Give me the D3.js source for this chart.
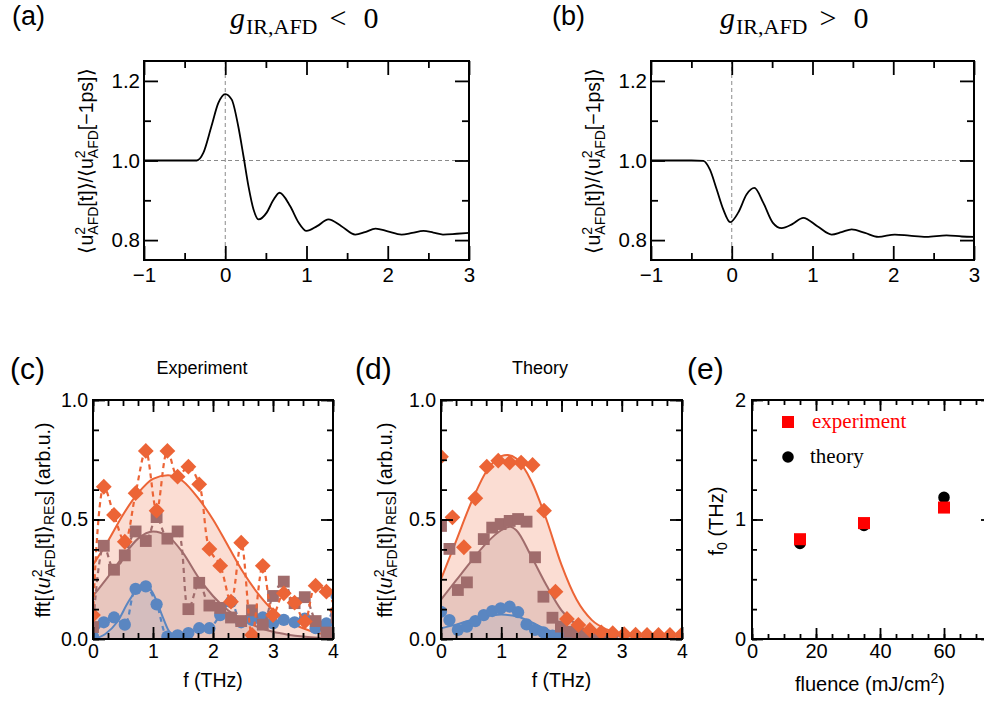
<!DOCTYPE html>
<html>
<head>
<meta charset="utf-8">
<title>AFD mode response</title>
<script src="https://d3js.org/d3.v7.min.js"></script>
<style>
  body { margin: 0; background: #fff; }
  svg text { fill: #000; }
</style>
</head>
<body>
<div id="fig"></div>
<script>
// ---- (a), (b): normalised <u^2_AFD> vs time (ps)
var timeA = [-1, -0.5, -0.35, -0.27, -0.17, -0.086, 0.0, 0.08, 0.16, 0.225, 0.286, 0.348, 0.41, 0.51, 0.59, 0.668, 0.8, 0.9, 1.0, 1.13, 1.27, 1.43, 1.6, 1.72, 1.85, 2.0, 2.17, 2.3, 2.44, 2.56, 2.68, 2.85, 3.0];
var ratioA = [1, 1, 1.0, 1.019, 1.086, 1.144, 1.167, 1.153, 1.086, 1.01, 0.935, 0.877, 0.852, 0.869, 0.9, 0.919, 0.885, 0.845, 0.823, 0.835, 0.852, 0.835, 0.814, 0.82, 0.829, 0.822, 0.814, 0.818, 0.823, 0.819, 0.814, 0.816, 0.818];
var timeB = [-1, -0.5, -0.352, -0.27, -0.186, -0.105, -0.02, 0.08, 0.185, 0.28, 0.39, 0.507, 0.618, 0.75, 0.886, 1.06, 1.237, 1.36, 1.485, 1.65, 1.815, 2.02, 2.2, 2.41, 2.66, 2.85, 3.0];
var ratioB = [1, 1, 0.999, 0.977, 0.927, 0.877, 0.845, 0.869, 0.915, 0.931, 0.894, 0.844, 0.830, 0.84, 0.856, 0.835, 0.814, 0.82, 0.827, 0.818, 0.808, 0.814, 0.811, 0.808, 0.812, 0.809, 0.808];

// ---- (c) experiment spectra
var expFreq = [0, 0.18, 0.35, 0.53, 0.71, 0.88, 1.06, 1.24, 1.41, 1.59, 1.77, 1.94, 2.12, 2.30, 2.47, 2.65, 2.83, 3.00, 3.18, 3.36, 3.53, 3.71, 3.89, 4.06];
var expHigh = [0.10, 0.637, 0.519, 0.407, 0.61, 0.787, 0.537, 0.787, 0.679, 0.721, 0.647, 0.377, 0.307, 0.156, 0.403, 0.017, 0.306, 0.10, 0.191, 0.152, 0.073, 0.223, 0.198, 0.12];
var expMid  = [0.05, 0.39, 0.29, 0.35, 0.45, 0.41, 0.51, 0.42, 0.45, 0.125, 0.235, 0.14, 0.13, 0.09, 0.075, 0.12, 0.06, 0.18, 0.24, 0.15, 0.175, 0.075, 0.027, 0.09];
var expLow  = [0.01, 0.07, 0.09, 0.06, 0.21, 0.22, 0.145, 0.01, 0.015, 0.025, 0.045, 0.045, 0.10, 0.155, 0.07, 0.08, 0.09, 0.065, 0.08, 0.07, 0.085, 0.045, 0.065, 0.18];
var expFitFreq = [0, 0.25, 0.5, 0.75, 1.0, 1.25, 1.5, 1.75, 2.0, 2.25, 2.5, 2.75, 3.0, 3.25, 3.5, 3.75, 4.0];
var expFitHigh = [0.31, 0.41, 0.52, 0.61, 0.67, 0.685, 0.66, 0.59, 0.50, 0.39, 0.28, 0.19, 0.12, 0.075, 0.045, 0.025, 0.015];
var expFitMid  = [0.18, 0.26, 0.345, 0.42, 0.45, 0.43, 0.36, 0.26, 0.18, 0.12, 0.08, 0.05, 0.03, 0.018, 0.01, 0.005, 0.003];
var expFitLowFreq = [0, 0.2, 0.4, 0.6, 0.75, 0.85, 0.95, 1.05, 1.15, 1.25, 1.35, 1.5];
var expFitLow  = [0, 0.02, 0.07, 0.16, 0.21, 0.222, 0.21, 0.165, 0.10, 0.04, 0.01, 0];

// ---- (d) theory spectra
var thFreqHigh = [0, 0.19, 0.38, 0.57, 0.76, 0.95, 1.14, 1.33, 1.52, 1.71, 1.90, 2.09, 2.28, 2.47, 2.66, 2.85, 3.04, 3.23, 3.42, 3.61, 3.80, 3.99];
var thHigh = [0.763, 0.509, 0.384, 0.589, 0.721, 0.746, 0.738, 0.738, 0.728, 0.537, 0.198, 0.084, 0.059, 0.038, 0.028, 0.024, 0.02, 0.018, 0.017, 0.017, 0.017, 0.017];
var thFreq = [0, 0.14, 0.28, 0.43, 0.57, 0.71, 0.85, 0.99, 1.14, 1.28, 1.42, 1.56, 1.70, 1.85, 1.99, 2.13, 2.27, 2.41, 2.56, 2.70, 2.84];
var thMid = [0.473, 0.377, 0.205, 0.237, 0.342, 0.418, 0.466, 0.481, 0.494, 0.502, 0.491, 0.342, 0.177, 0.089, 0.052, 0.03, 0.02, 0.014, 0.011, 0.009, 0.008];
var thLow = [0.114, 0.079, 0.038, 0.052, 0.075, 0.10, 0.117, 0.128, 0.135, 0.112, 0.061, 0.038, 0.028, 0.014, 0.008, 0.005, 0.003, 0.002, 0.001, 0.001, 0.0];
var thFitHighFreq = [0, 0.25, 0.5, 0.75, 1.0, 1.1, 1.25, 1.5, 1.75, 2.0, 2.25, 2.5, 2.75, 3.0, 3.25, 3.5, 3.75, 4.0];
var thFitHigh = [0.25, 0.41, 0.57, 0.70, 0.765, 0.77, 0.755, 0.66, 0.50, 0.31, 0.165, 0.08, 0.04, 0.022, 0.018, 0.016, 0.015, 0.015];
var thFitMidFreq = [0, 0.25, 0.5, 0.75, 1.0, 1.15, 1.25, 1.5, 1.75, 2.0, 2.25, 2.5, 2.75, 3.0, 3.5, 4.0];
var thFitMid = [0.165, 0.245, 0.325, 0.40, 0.455, 0.47, 0.455, 0.345, 0.225, 0.12, 0.06, 0.03, 0.018, 0.013, 0.01, 0.01];
var thFitLowFreq = [0, 0.25, 0.5, 0.75, 1.0, 1.25, 1.5, 1.75, 2.0, 2.25, 2.5, 3.0, 4.0];
var thFitLow = [0.045, 0.06, 0.08, 0.095, 0.102, 0.095, 0.07, 0.04, 0.018, 0.008, 0.003, 0, 0];

// ---- (e) peak frequency vs fluence
var fluence = [15, 35, 60];
var f0Exp = [0.835, 0.97, 1.10];
var f0Theory = [0.80, 0.95, 1.185];

// ---- tick values
var timeMajor = [-1, 0, 1, 2, 3], timeMinor = [-0.5, 0.5, 1.5, 2.5];
var ratioMajor = [0.8, 1.0, 1.2], ratioMinor = [0.9, 1.1];
var freqMajor = [0, 1, 2, 3, 4], freqMinor = d3.range(0, 4.01, 0.25);
var ampMajor = [0, 0.5, 1], ampMinor = d3.range(0, 1.01, 0.125);
var fluMajor = [0, 20, 40, 60], fluMinor = d3.range(0, 75.1, 5);
var f0Major = [0, 1, 2], f0Minor = d3.range(0, 2.01, 0.25);

var SANS = "'Liberation Sans', Arial, Helvetica, sans-serif";
var SERIF = "'Liberation Serif', 'Times New Roman', serif";
var ORANGE = "#ec6436", BROWN = "#a06c6c", BLUE = "#5a86c1";

var svg = d3.select("#fig").append("svg")
    .attr("width", 984).attr("height", 706)
    .style("font-family", SANS);

function zip(xs, ys) { return xs.map(function(v, i) { return [v, ys[i]]; }); }

function makePanel(id, box, xd, yd) {
    var x = d3.scaleLinear().domain(xd).range([box.left, box.right]);
    var y = d3.scaleLinear().domain(yd).range([box.bottom, box.top]);
    svg.append("clipPath").attr("id", id).append("rect")
        .attr("x", box.left).attr("y", box.top)
        .attr("width", box.right - box.left).attr("height", box.bottom - box.top);
    var g = svg.append("g").attr("clip-path", "url(#" + id + ")");
    return { x: x, y: y, g: g, box: box };
}

function addTicks(axis, values, size, transform, fmt, fs, pad) {
    axis.tickValues(values).tickSize(-size).tickPadding(pad || 4)
        .tickFormat(fmt || function() { return ""; });
    var a = svg.append("g").attr("transform", transform).call(axis);
    a.select(".domain").remove();
    a.selectAll("line").attr("stroke", "#000").attr("stroke-width", 1.8);
    a.selectAll("text").attr("font-size", fs || 12).attr("font-family", SANS).attr("fill", "#000");
}

function drawAxes(p, o) {
    var b = p.box;
    var bt = "translate(0," + b.bottom + ")", tt = "translate(0," + b.top + ")";
    var lt = "translate(" + b.left + ",0)", rt = "translate(" + b.right + ",0)";
    addTicks(d3.axisBottom(p.x), o.xMinor, o.minor, bt);
    addTicks(d3.axisTop(p.x), o.xMinor, o.minor, tt);
    addTicks(d3.axisLeft(p.y), o.yMinor, o.minor, lt);
    addTicks(d3.axisRight(p.y), o.yMinor, o.minor, rt);
    addTicks(d3.axisBottom(p.x), o.xMajor, o.major, bt, o.xFmt, o.fs, o.xPad);
    addTicks(d3.axisTop(p.x), o.xMajor, o.major, tt);
    addTicks(d3.axisLeft(p.y), o.yMajor, o.major, lt, o.yFmt, o.fs, o.yPad);
    addTicks(d3.axisRight(p.y), o.yMajor, o.major, rt);
    svg.append("rect")
        .attr("x", b.left).attr("y", b.top)
        .attr("width", b.right - b.left).attr("height", b.bottom - b.top)
        .attr("fill", "none").attr("stroke", "#000").attr("stroke-width", 2);
}

// text made of pieces (sub/superscripts)
function rich(sel, parts) {
    parts.forEach(function(p) {
        var t = sel.append("tspan").text(p.t);
        if (p.fs) t.attr("font-size", p.fs);
        if (p.dx) t.attr("dx", p.dx);
        if (p.dy) t.attr("dy", p.dy);
        if (p.it) t.attr("font-style", "italic");
    });
    return sel;
}

function label(x, y, txt, fs, opts) {
    opts = opts || {};
    return svg.append("text").attr("x", x).attr("y", y)
        .attr("font-size", fs)
        .attr("font-family", opts.serif ? SERIF : SANS)
        .attr("text-anchor", opts.anchor || "start")
        .style("fill", opts.color || "#000")
        .text(txt);
}

// ---------------- (a) and (b)
function timePanel(id, box, t, r, label0) {
    var p = makePanel(id, box, [-1, 3], [0.75, 1.25]);
    p.g.append("line")
        .attr("x1", p.x(-1)).attr("x2", p.x(3)).attr("y1", p.y(1)).attr("y2", p.y(1))
        .attr("stroke", "#8a8a8a").attr("stroke-width", 1).attr("stroke-dasharray", "4,3");
    p.g.append("line")
        .attr("x1", p.x(0)).attr("x2", p.x(0)).attr("y1", p.y(0.75)).attr("y2", p.y(1.25))
        .attr("stroke", "#8a8a8a").attr("stroke-width", 1).attr("stroke-dasharray", "4,3");
    var line = d3.line().x(function(d) { return p.x(d[0]); }).y(function(d) { return p.y(d[1]); })
        .curve(d3.curveMonotoneX);
    p.g.append("path").datum(zip(t, r)).attr("d", line)
        .attr("fill", "none").attr("stroke", "#000").attr("stroke-width", 1.8);
    drawAxes(p, {
        xMajor: timeMajor, xMinor: timeMinor, yMajor: ratioMajor, yMinor: ratioMinor,
        major: 14, minor: 7, xFmt: d3.format("d"), yFmt: d3.format(".1f"),
        fs: 20.5, xPad: 7, yPad: 4
    });
    rich(svg.append("text")
        .attr("transform", "translate(" + label0 + ",161) rotate(-90)")
        .attr("text-anchor", "middle").attr("font-size", 19.5), [
        { t: "\u27E8u" }, { t: "2", fs: 14, dy: -8 }, { t: "AFD", fs: 14, dx: -7.8, dy: 13 },
        { t: "[t]\u27E9/\u27E8u", dy: -5 }, { t: "2", fs: 14, dy: -8 }, { t: "AFD", fs: 14, dx: -7.8, dy: 13 },
        { t: "[\u22121ps]\u27E9", dy: -5 }
    ]);
    return p;
}

timePanel("clipA", { left: 144, right: 469, top: 61, bottom: 260 }, timeA, ratioA, 93);
timePanel("clipB", { left: 651, right: 974, top: 61, bottom: 260 }, timeB, ratioB, 600);

label(12, 25, "(a)", 27);
label(552, 25, "(b)", 27);

function gTitle(x, rel) {
    rich(svg.append("text").attr("x", x).attr("y", 28).attr("font-family", SERIF).attr("font-size", 30), [
        { t: "g", it: true },
        { t: "IR,AFD", fs: 22, dx: 1, dy: 6 },
        { t: rel, dx: 12, dy: -6 },
        { t: "0", dx: 17 }
    ]);
}
gTitle(230, "<");
gTitle(720, ">");

// ---------------- (c) and (d)
function areaFit(p, xs, ys, color, fillOp) {
    var pts = zip(xs, ys);
    var area = d3.area().x(function(d) { return p.x(d[0]); })
        .y0(p.y(0)).y1(function(d) { return p.y(d[1]); }).curve(d3.curveMonotoneX);
    p.g.append("path").datum(pts).attr("d", area).attr("fill", color).attr("fill-opacity", fillOp);
}
function lineFit(p, xs, ys, color) {
    var line = d3.line().x(function(d) { return p.x(d[0]); }).y(function(d) { return p.y(d[1]); })
        .curve(d3.curveMonotoneX);
    p.g.append("path").datum(zip(xs, ys)).attr("d", line)
        .attr("fill", "none").attr("stroke", color).attr("stroke-width", 2);
}
function markers(p, xs, ys, color, shape, dashed) {
    var pts = zip(xs, ys);
    if (dashed) {
        var line = d3.line().x(function(d) { return p.x(d[0]); }).y(function(d) { return p.y(d[1]); })
            .curve(d3.curveCatmullRom.alpha(0.5));
        p.g.append("path").datum(pts).attr("d", line)
            .attr("fill", "none").attr("stroke", color).attr("stroke-width", 2.2)
            .attr("stroke-dasharray", "5,4");
    }
    var sym, rot = 0;
    if (shape === "diamond") { sym = d3.symbol().type(d3.symbolSquare).size(125)(); rot = 45; }
    else if (shape === "square") { sym = d3.symbol().type(d3.symbolSquare).size(140)(); }
    else { sym = d3.symbol().type(d3.symbolCircle).size(118)(); }
    p.g.selectAll(null).data(pts).enter().append("path")
        .attr("d", sym)
        .attr("transform", function(d) { return "translate(" + p.x(d[0]) + "," + p.y(d[1]) + ") rotate(" + rot + ")"; })
        .attr("fill", color);
}
function specAxes(p, ylabX) {
    drawAxes(p, {
        xMajor: freqMajor, xMinor: freqMinor, yMajor: ampMajor, yMinor: ampMinor,
        major: 12, minor: 6, xFmt: d3.format("d"), yFmt: d3.format(".1f"),
        fs: 19.5, xPad: 5, yPad: 5
    });
    rich(svg.append("text")
        .attr("transform", "translate(" + ylabX + ",520) rotate(-90)")
        .attr("text-anchor", "middle").attr("font-size", 19.5), [
        { t: "fft[\u27E8" }, { t: "u", it: true }, { t: "2", fs: 14, dy: -8 },
        { t: "AFD", fs: 14, dx: -7.8, dy: 13 }, { t: "[t]\u27E9", dy: -5 },
        { t: "RES", fs: 14, dy: 4 }, { t: "] (arb.u.)", dy: -4 }
    ]);
    label((p.box.left + p.box.right) / 2, 687, "f (THz)", 19.5, { anchor: "middle" });
}

var pc = makePanel("clipC", { left: 93, right: 333, top: 400, bottom: 639 }, [0, 4], [0, 1]);
areaFit(pc, expFitFreq, expFitHigh, ORANGE, 0.22);
areaFit(pc, expFitFreq, expFitMid, BROWN, 0.2);
areaFit(pc, expFitLowFreq, expFitLow, BLUE, 0.14);
lineFit(pc, expFitFreq, expFitHigh, ORANGE);
lineFit(pc, expFitFreq, expFitMid, BROWN);
lineFit(pc, expFitLowFreq, expFitLow, BLUE);
markers(pc, expFreq, expLow, BLUE, "circle", true);
markers(pc, expFreq, expMid, BROWN, "square", true);
markers(pc, expFreq, expHigh, ORANGE, "diamond", true);
specAxes(pc, 50);
label(10, 379, "(c)", 30);
label(202, 374, "Experiment", 18, { anchor: "middle" });

var pd = makePanel("clipD", { left: 441, right: 682, top: 400, bottom: 639 }, [0, 4], [0, 1]);
areaFit(pd, thFitHighFreq, thFitHigh, ORANGE, 0.22);
areaFit(pd, thFitMidFreq, thFitMid, BROWN, 0.2);
areaFit(pd, thFitLowFreq, thFitLow, BLUE, 0.14);
lineFit(pd, thFitHighFreq, thFitHigh, ORANGE);
lineFit(pd, thFitMidFreq, thFitMid, BROWN);
lineFit(pd, thFitLowFreq, thFitLow, BLUE);
markers(pd, thFreq, thLow, BLUE, "circle", false);
markers(pd, thFreq, thMid, BROWN, "square", false);
markers(pd, thFreqHigh, thHigh, ORANGE, "diamond", false);
specAxes(pd, 392);
label(355, 379, "(d)", 30);
label(540, 374, "Theory", 18, { anchor: "middle" });

// ---------------- (e)
var pe = makePanel("clipE", { left: 752, right: 992, top: 400, bottom: 639 }, [0, 75], [0, 2]);
var circ = d3.symbol().type(d3.symbolCircle).size(105)();
var sq = d3.symbol().type(d3.symbolSquare).size(145)();
pe.g.selectAll(null).data(zip(fluence, f0Theory)).enter().append("path")
    .attr("d", circ).attr("fill", "#000")
    .attr("transform", function(d) { return "translate(" + pe.x(d[0]) + "," + pe.y(d[1]) + ")"; });
pe.g.selectAll(null).data(zip(fluence, f0Exp)).enter().append("path")
    .attr("d", sq).attr("fill", "#ff0000")
    .attr("transform", function(d) { return "translate(" + pe.x(d[0]) + "," + pe.y(d[1]) + ")"; });
drawAxes(pe, {
    xMajor: fluMajor, xMinor: fluMinor, yMajor: f0Major, yMinor: f0Minor,
    major: 11, minor: 5, xFmt: d3.format("d"), yFmt: d3.format("d"),
    fs: 20, xPad: 5, yPad: 6
});
// legend
svg.append("path").attr("d", sq).attr("fill", "#ff0000").attr("transform", "translate(788,422)");
label(812, 428, "experiment", 21, { serif: true, color: "#ff0000" });
svg.append("path").attr("d", circ).attr("fill", "#000").attr("transform", "translate(788,457)");
label(810, 463, "theory", 21, { serif: true });

rich(svg.append("text")
    .attr("transform", "translate(723,521) rotate(-90)")
    .attr("text-anchor", "middle").attr("font-size", 20), [
    { t: "f" }, { t: "0", fs: 14, dy: 4 }, { t: " (THz)", dy: -4 }
]);
rich(svg.append("text").attr("x", 870).attr("y", 691)
    .attr("text-anchor", "middle").attr("font-size", 20), [
    { t: "fluence (mJ/cm" }, { t: "2", fs: 14, dy: -8 }, { t: ")", dy: 8 }
]);
label(687, 379, "(e)", 30);
</script>
</body>
</html>
